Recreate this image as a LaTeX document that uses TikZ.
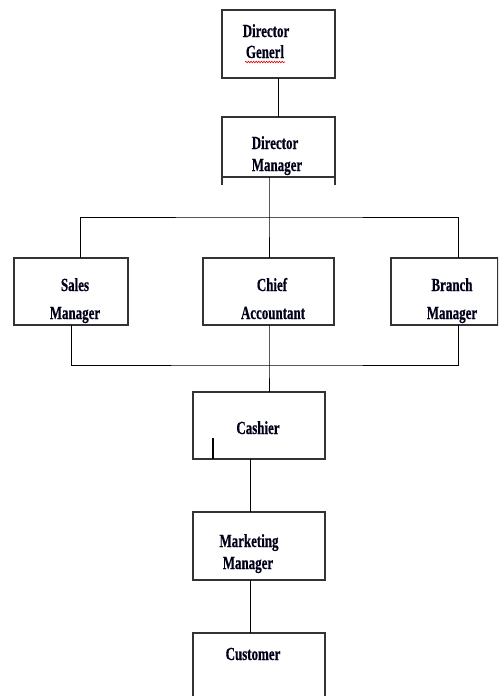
\documentclass[tikz,border=0pt]{standalone}
\usepackage{fontspec}
\setmainfont{Liberation Serif}[FakeStretch=0.7,BoldFeatures={FakeBold=0.5}]
\usetikzlibrary{decorations.pathmorphing}
\begin{document}
\begin{tikzpicture}[x=1pt,y=-1pt,
  box/.style={draw=black!80,line width=1.3pt},
  link/.style={draw=black,line width=1pt},
  lbl/.style={inner sep=0pt,font=\fontsize{18.5}{18.5}\selectfont\bfseries,anchor=base,text=black!90!blue}]
\useasboundingbox (0,0) rectangle (498,696);
\clip (0,0) rectangle (498,696);
% boxes
\draw[box] (222,10) rectangle (335,78);
\coordinate (dgB) at (278,78);
\draw[box] (222,117) rectangle (335,177);
\draw[box] (222,177) -- (222,185) (335,177) -- (335,185);
\coordinate (dmT) at (278,117);
\coordinate (dmB) at (269,177);
\draw[box] (14,258) rectangle (128,325);
\draw[box] (203,258) rectangle (334,325);
\draw[box] (391,258) rectangle (498,325);
\draw[box] (193,392) rectangle (325,459);
\draw[box] (193,512) rectangle (325,580);
\draw[box] (193,633) rectangle (325,700);
% small mark inside the cashier box
\draw[black,line width=1.6pt] (213,438) -- (213,459);
% anchor points of the connectors
\coordinate (smT) at (80,258);
\coordinate (smB) at (71,325);
\coordinate (caT) at (269,258);
\coordinate (caB) at (269,325);
\coordinate (bmT) at (458,258);
\coordinate (bmB) at (458,325);
\coordinate (cshT) at (269,392);
\coordinate (cshB) at (250,459);
\coordinate (mmT) at (250,512);
\coordinate (mmB) at (250,580);
\coordinate (cuT) at (250,633);
\coordinate (busU) at (269,217);
\coordinate (busL) at (269,365);
% connectors
\draw[link] (dgB) -- (dmT);
\draw[link] (dmB) -- (busU) -- (caT);
\draw[link] (smT) |- (busU) -| (bmT);
\draw[link] (smB) |- (busL) -| (bmB);
\draw[link] (caB) -- (busL) -- (cshT);
\draw[link] (cshB) -- (mmT);
\draw[link] (mmB) -- (cuT);
% labels
\node[lbl] (dg1) at (266,37) {Director};
\node[lbl] (dg2) at (265,58) {Generl};
\draw[red!85!black,line width=0.6pt,decorate,decoration={snake,amplitude=0.8pt,segment length=2.6pt}] (245,62) -- (285,62);
\node[lbl] (dm1) at (275,149) {Director};
\node[lbl] (dm2) at (277,171) {Manager};
\node[lbl] (sm1) at (75,291) {Sales};
\node[lbl] (sm2) at (75,319) {Manager};
\node[lbl] (ca1) at (272,291) {Chief};
\node[lbl] (ca2) at (273,319) {Accountant};
\node[lbl] (bm1) at (452,291) {Branch};
\node[lbl] (bm2) at (452,319) {Manager};
\node[lbl] (csh) at (258,434) {Cashier};
\node[lbl] (mm1) at (249,547) {Marketing};
\node[lbl] (mm2) at (248,569) {Manager};
\node[lbl] (cu) at (253,660) {Customer};
\end{tikzpicture}
\end{document}
